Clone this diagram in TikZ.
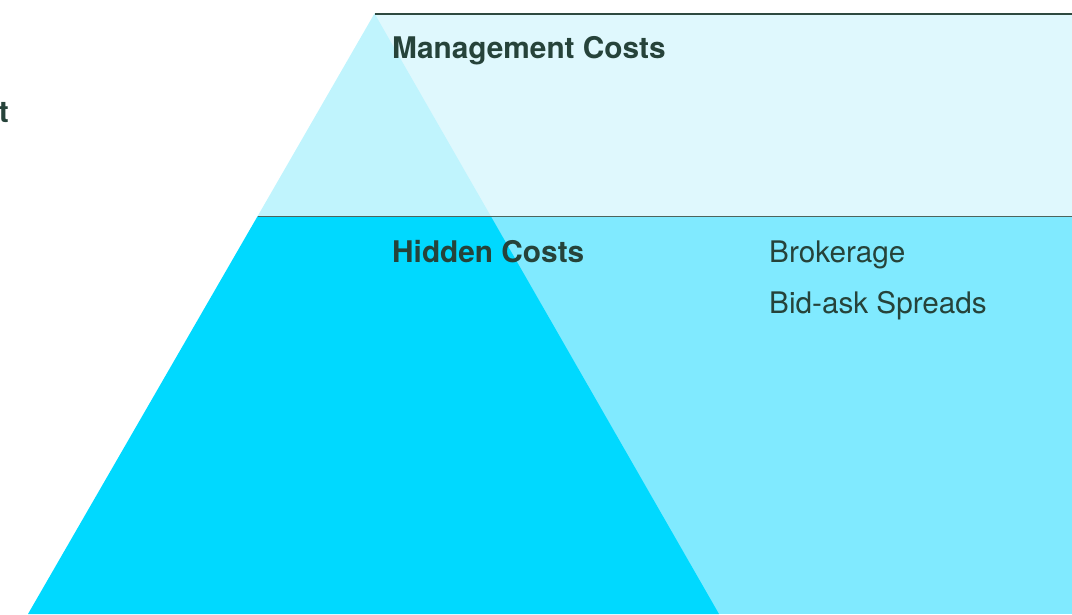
\documentclass[tikz,border=0pt]{standalone}
\usepackage{fontspec}
\setmainfont{TeX Gyre Heros}
\definecolor{ink}{HTML}{26433A}
\definecolor{rulecol}{HTML}{2E4A40}
\definecolor{topband}{HTML}{DFF8FD}
\definecolor{toptri}{HTML}{C0F4FD}
\definecolor{botband}{HTML}{80EAFF}
\definecolor{bottri}{HTML}{00D9FF}
\tikzset{
  lbl/.style={anchor=base west, inner sep=0pt, text=ink, font=\fontsize{29.7}{35}\selectfont},
  lblb/.style={lbl, font=\fontsize{29.8}{35}\selectfont\bfseries},
}
\begin{document}
\begin{tikzpicture}[x=1pt,y=-1pt]
\useasboundingbox (0,0) rectangle (1072,614);
\coordinate (apex) at (374.5,13.5);
\coordinate (ml) at (257.7,216);
\coordinate (mr) at (490.7,216);
\coordinate (bl) at (28,614);
\coordinate (br) at (719,614);
% bands
\fill[topband] (apex) rectangle (1072,216);
\fill[toptri] (apex) -- (ml) -- (mr) -- cycle;
\fill[botband] (ml) rectangle (1072,614);
\fill[bottri] (ml) -- (mr) -- (br) -- (bl) -- cycle;
% rules
\draw[rulecol, line width=2pt] (apex) -- (1072,13.5);
\draw[rulecol!85!white, line width=1pt] (ml) -- (1072,216);
% texts
\node[lblb] (mgmt) at (392,58.5) {Management Costs};
\node[lblb] (hidden) at (392,262.5) {Hidden Costs};
\node[lbl] (brok) at (769,262.5) {Brokerage};
\node[lbl] (bidask) at (769,313.5) {Bid-ask Spreads};
\node[lblb, anchor=base east] (cut) at (9,122.5) {t};
\end{tikzpicture}
\end{document}
